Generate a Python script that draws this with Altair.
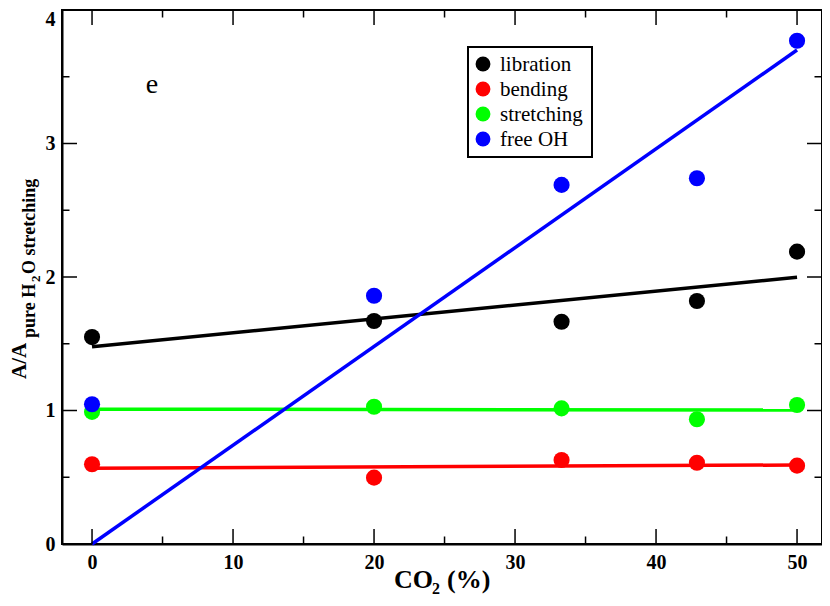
import altair as alt
import pandas as pd

# ---- data ----
co2 = [0, 20, 33.3, 42.9, 50]
series_order = ["libration", "bending", "stretching", "free OH"]
libration = [1.55, 1.67, 1.665, 1.82, 2.19]
bending = [0.597, 0.497, 0.629, 0.609, 0.587]
stretching = [0.99, 1.028, 1.016, 0.934, 1.041]
free_oh = [1.047, 1.86, 2.69, 2.74, 3.77]

fit_x = [0, 50]
fit_libration = [1.478, 1.998]
fit_bending = [0.567, 0.592]
fit_stretching = [1.01, 1.004]
fit_free_oh = [0.0, 3.70]

colors = ["#000000", "#ff0000", "#00ff00", "#0000ff"]

x_major = [0, 10, 20, 30, 40, 50]
x_minor = [5, 15, 25, 35, 45]
y_major = [0, 1, 2, 3, 4]
y_minor = [0.5, 1.5, 2.5, 3.5]

# ---- tables ----
pts = []
for i, (name, vals) in enumerate(zip(series_order, [libration, bending, stretching, free_oh])):
    for xv, yv in zip(co2, vals):
        pts.append({"series": name, "x": xv, "y": yv, "k": i})
df_pts = pd.DataFrame(pts)

fits = []
for name, vals in zip(series_order, [fit_libration, fit_bending, fit_stretching, fit_free_oh]):
    for xv, yv in zip(fit_x, vals):
        fits.append({"series": name, "x": xv, "y": yv})
df_fit = pd.DataFrame(fits)

W, H = 760, 534
FONT = "Liberation Serif"

xs = alt.Scale(domain=[-2.13, 51.77], nice=False, zero=False)
ys = alt.Scale(domain=[0, 4], nice=False, zero=False)
cs = alt.Scale(domain=series_order, range=colors)

x_axis = alt.Axis(values=x_major, ticks=False, grid=False, title=None, format="d",
                  labelFont=FONT, labelFontSize=20, labelFontWeight="bold",
                  labelColor="black", labelPadding=8, domainColor="black",
                  domainWidth=2, labelFlush=False)
y_axis = alt.Axis(values=y_major, ticks=False, grid=False, title=None, format="d",
                  labelFont=FONT, labelFontSize=20, labelFontWeight="bold",
                  labelColor="black", labelPadding=7, domainColor="black",
                  domainWidth=2, labelOffset=alt.expr("datum.value == 4 ? 9 : 0"))

lines = alt.Chart(df_fit).mark_line(strokeWidth=3.5).encode(
    x=alt.X("x:Q", scale=xs, axis=x_axis),
    y=alt.Y("y:Q", scale=ys, axis=y_axis),
    color=alt.Color("series:N", scale=cs, legend=None),
    detail="series:N",
)

points = alt.Chart(df_pts).mark_circle(size=260, opacity=1).encode(
    x=alt.X("x:Q", scale=xs),
    y=alt.Y("y:Q", scale=ys),
    color=alt.Color("series:N", scale=cs, legend=None),
    order=alt.Order("k:Q"),
)

# ---- inward ticks on all four sides ----
df_xM = pd.DataFrame({"t": x_major})
df_xm = pd.DataFrame({"t": x_minor})
df_yM = pd.DataFrame({"t": y_major})
df_ym = pd.DataFrame({"t": y_minor})

def xticks(df, length):
    b = alt.Chart(df).mark_rule(color="black", strokeWidth=1.5).encode(
        x=alt.X("t:Q", scale=xs), y=alt.value(H), y2=alt.value(H - length))
    t = alt.Chart(df).mark_rule(color="black", strokeWidth=1.5).encode(
        x=alt.X("t:Q", scale=xs), y=alt.value(0), y2=alt.value(length))
    return [b, t]

def yticks(df, length):
    l = alt.Chart(df).mark_rule(color="black", strokeWidth=1.5).encode(
        y=alt.Y("t:Q", scale=ys), x=alt.value(0), x2=alt.value(length))
    r = alt.Chart(df).mark_rule(color="black", strokeWidth=1.5).encode(
        y=alt.Y("t:Q", scale=ys), x=alt.value(W), x2=alt.value(W - length))
    return [l, r]

ticks = xticks(df_xM, 15) + xticks(df_xm, 7.5) + yticks(df_yM, 15) + yticks(df_ym, 7.5)

# ---- legend (drawn as a boxed key) ----
one = pd.DataFrame({"a": [0]})
legend_box = alt.Chart(one).mark_rect(fill="white", stroke="black", strokeWidth=2).encode(
    x=alt.value(406), x2=alt.value(530), y=alt.value(37), y2=alt.value(147))
legend_layers = [legend_box]
row_y = [54, 79, 104, 129]
for name, col, ry in zip(series_order, colors, row_y):
    d = pd.DataFrame({"series": [name]})
    legend_layers.append(alt.Chart(d).mark_circle(size=220, opacity=1, color=col).encode(
        x=alt.value(421), y=alt.value(ry)))
    legend_layers.append(alt.Chart(d).mark_text(font=FONT, fontSize=21, color="black",
                                                align="left", baseline="middle").encode(
        x=alt.value(438), y=alt.value(ry + 1), text="series:N"))

# ---- text annotations ----
def txt(text, x, y, size, weight="bold", angle=0, align="left", baseline="alphabetic"):
    kw = dict(text=text, font=FONT, fontSize=size, fontWeight=weight, color="black",
              align=align, baseline=baseline)
    if angle:
        kw["angle"] = angle
    return alt.Chart(one).mark_text(**kw).encode(x=alt.value(x), y=alt.value(y))

texts = [
    txt("e", 90, 83, 28, weight="normal", align="center"),
    # x title: CO2 (%)
    txt("CO", 332, 578, 26),
    txt("2", 370, 584, 16),
    txt("(%)", 385, 578, 26),
    # y title: A/A pure H2O stretching
    txt("A/A", -36, 369, 21, angle=270),
    txt("pure H", -27, 328, 18, angle=270),
    txt("2", -22, 272, 13, angle=270),
    txt("O stretching", -27, 264, 18, angle=270),
]

chart = alt.layer(lines, *ticks, points, *legend_layers, *texts).properties(
    width=W, height=H,
    padding={"left": 54, "top": 2, "right": 0, "bottom": 52},
    autosize=alt.AutoSizeParams(type="none"),
).configure_view(stroke="black", strokeWidth=2)

chart.save("out.html", embed_options={"renderer": "svg", "actions": False})
